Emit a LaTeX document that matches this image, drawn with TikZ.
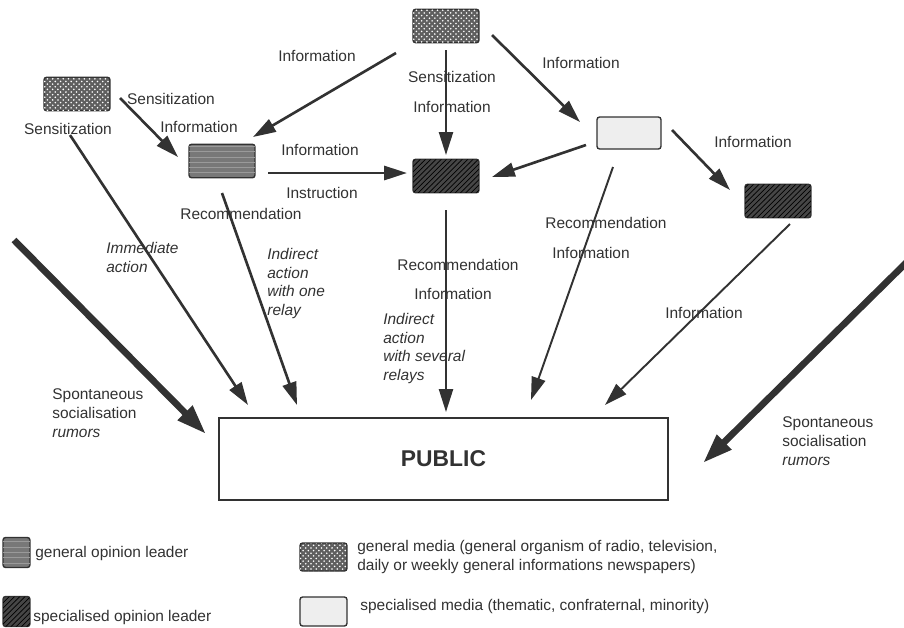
\documentclass[tikz,border=0pt]{standalone}
\usepackage{fontspec}
\setmainfont{Liberation Sans}
\usepackage{xcolor}
\definecolor{ink}{RGB}{50, 50, 50}
\definecolor{leader1}{RGB}{120, 120, 120}
\definecolor{leader2}{RGB}{70, 70, 70}
\definecolor{media1}{RGB}{95, 95, 95}
\definecolor{media2}{RGB}{238, 238, 238}
\usepackage{tikz}
\usetikzlibrary{arrows.meta, patterns}

\begin{document}
\begin{tikzpicture}[x=0.02cm, y=-0.02cm, font=\fontsize{8.8}{10.8}\selectfont, text=ink,
		box/.style={draw=ink, line width=0.8pt, rounded corners=1.5pt, inner sep=0pt, minimum width=1.32cm, minimum height=0.67cm},
		genmedia/.style={box, fill=media1, postaction={pattern=crosshatch dots, pattern color=white}},
		specmedia/.style={box, fill=media2},
		genleader/.style={box, fill=leader1, postaction={pattern=horizontal lines, pattern color=leader1!75!white}},
		specleader/.style={box, fill=leader2, postaction={pattern=north east lines, pattern color=black}},
		flow/.style={draw=ink, line width=1.5pt, -{Triangle[length=13pt, width=8pt]}},
		thinflow/.style={flow, line width=1.1pt},
		bigflow/.style={draw=ink, line width=3.8pt, -{Triangle[length=17pt, width=11pt]}},
		legendbox/.style={minimum width=0.54cm, minimum height=0.6cm}]
		\clip (0,0) rectangle (904,627);

		% media and opinion leaders
		\node[genmedia] (tmedia) at (446,26) {};
		\node[genmedia] (lmedia) at (77,94) {};
		\node[genleader] (gleader) at (222,161) {};
		\node[specleader] (mleader) at (446,176) {};
		\node[specmedia, minimum width=1.28cm, minimum height=0.64cm] (smedia) at (629,133) {};
		\node[specleader] (rleader) at (778,201) {};
		\node[draw=ink, line width=0.8pt, minimum width=8.98cm, minimum height=1.64cm, font=\fontsize{13}{15}\selectfont\bfseries] (public) at (443.5,459) {PUBLIC};

		% labels
		\node (infoA) at (317,56) {Information};
		\node (sensA) at (452,77) {Sensitization};
		\node (infoB) at (452,107) {Information};
		\node (infoC) at (581,63) {Information};
		\node (sensB) at (171,99) {Sensitization};
		\node (infoD) at (199,127) {Information};
		\node (sensC) at (68,129) {Sensitization};
		\node (infoE) at (320,150) {Information};
		\node (instr) at (322,193) {Instruction};
		\node (recA) at (241,214) {Recommendation};
		\node (recB) at (458,265) {Recommendation};
		\node (infoF) at (453,294) {Information};
		\node (recC) at (606,223) {Recommendation};
		\node (infoG) at (591,253) {Information};
		\node (infoH) at (753,142) {Information};
		\node (infoI) at (704,313) {Information};
		\node[anchor=west, align=left, inner sep=0pt, font=\fontsize{8.8}{10.8}\selectfont\itshape] (immed) at (106,257.5) {Immediate\\action};
		\node[anchor=west, align=left, inner sep=0pt, font=\fontsize{8.8}{10.8}\selectfont\itshape] (onerelay) at (267,283.5) {Indirect\\action\\with one\\relay};
		\node[anchor=west, align=left, inner sep=0pt, font=\fontsize{8.8}{10.8}\selectfont\itshape] (sevrelay) at (383,348.5) {Indirect\\action\\with several\\relays};
		\node[anchor=west, align=left, inner sep=0pt] (spontL) at (52,413) {Spontaneous\\socialisation\\\textit{rumors}};
		\node[anchor=west, align=left, inner sep=0pt] (spontR) at (782,441) {Spontaneous\\socialisation\\\textit{rumors}};

		% flows
		\draw[flow] ([shift={(-50,27)}]tmedia.center) -- ([shift={(31,-24)}]gleader.center);
		\draw[thinflow] ([shift={(0,24)}]tmedia.center) -- ([shift={(0,-21)}]mleader.center);
		\draw[flow] ([shift={(46,9)}]tmedia.center) -- ([shift={(-49,-11)}]smedia.center);
		\draw[flow] ([shift={(43,4)}]lmedia.center) -- ([shift={(-44,-4)}]gleader.center);
		\draw[flow] ([shift={(-7,41)}]lmedia.center) -- ([shift={(-195.5,-54)}]public.center);
		\draw[flow] ([shift={(0,32)}]gleader.center) -- ([shift={(-146.5,-54)}]public.center);
		\draw[flow] ([shift={(46,12)}]gleader.center) -- ([shift={(-39,-3)}]mleader.center);
		\draw[flow] ([shift={(-43,12)}]smedia.center) -- ([shift={(46,1)}]mleader.center);
		\draw[flow] ([shift={(43,-3)}]smedia.center) -- ([shift={(-48,-11)}]rleader.center);
		\draw[thinflow] ([shift={(0,34)}]mleader.center) -- ([shift={(2.5,-47)}]public.center);
		\draw[thinflow] ([shift={(-16,34)}]smedia.center) -- ([shift={(87.5,-59)}]public.center);
		\draw[thinflow] ([shift={(12,23)}]rleader.center) -- ([shift={(161.5,-54)}]public.center);

		% spontaneous socialisation
		\coordinate (rumL) at (14,240);
		\coordinate (rumR) at (912,257);
		\draw[bigflow] (rumL) -- ([shift={(-237.5,-25)}]public.center);
		\draw[bigflow] (rumR) -- ([shift={(259.5,4)}]public.center);

		% legend
		\node[genleader, legendbox] (keyA) at (16.5,552.5) {};
		\node[anchor=west, inner sep=0pt] (keyAtxt) at (35,553) {general opinion leader};
		\node[specleader, legendbox] (keyB) at (16.5,611.5) {};
		\node[anchor=west, inner sep=0pt] (keyBtxt) at (33,617) {specialised opinion leader};
		\node[genmedia, minimum width=0.94cm, minimum height=0.56cm] (keyC) at (323.5,557) {};
		\node[anchor=west, align=left, inner sep=0pt] (keyCtxt) at (357,557) {general media (general organism of radio, television,\\daily or weekly general informations newspapers)};
		\node[specmedia, minimum width=0.94cm, minimum height=0.58cm] (keyD) at (323.5,611.5) {};
		\node[anchor=west, inner sep=0pt] (keyDtxt) at (360,606) {specialised media (thematic, confraternal, minority)};
	\end{tikzpicture}
\end{document}
